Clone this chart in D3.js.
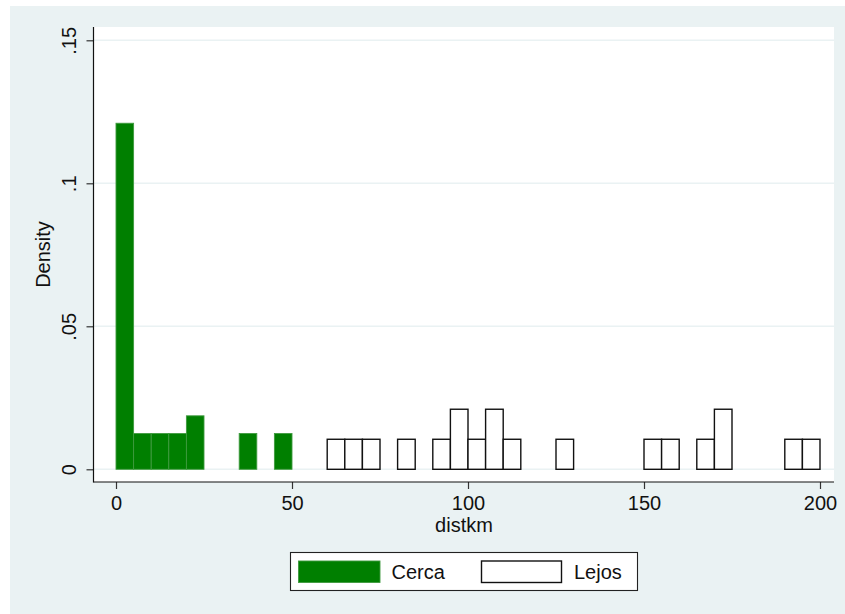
<!DOCTYPE html>
<html>
<head>
<meta charset="utf-8">
<script src="https://cdn.jsdelivr.net/npm/d3@7"></script>
<style>
  html, body { margin: 0; padding: 0; background: #ffffff; }
  svg { display: block; }
  text { font-family: "Liberation Sans", Arial, Helvetica, sans-serif; fill: #111; }
</style>
</head>
<body>
<svg id="chart" width="845" height="614"></svg>
<script>
// Histogram bins (distance in km), width 5
const binWidth = 5;
const cercaBinStart = [0, 5, 10, 15, 20, 35, 45];
const cercaDensity  = [0.121, 0.0125, 0.0125, 0.0125, 0.0187, 0.0125, 0.0125];
const lejosBinStart = [60, 65, 70, 80, 90, 95, 100, 105, 110, 125, 150, 155, 165, 170, 190, 195];
const lejosDensity  = [0.0105, 0.0105, 0.0105, 0.0105, 0.0105, 0.021, 0.0105, 0.021, 0.0105,
                       0.0105, 0.0105, 0.0105, 0.0105, 0.021, 0.0105, 0.0105];
const xTicks = [0, 50, 100, 150, 200];
const yTicks = [0, 0.05, 0.1, 0.15];
const yTickLabels = ["0", ".05", ".1", ".15"];
const seriesNames = ["Cerca", "Lejos"];

const cerca = cercaBinStart.map((s, i) => ({ x0: s, x1: s + binWidth, d: cercaDensity[i] }));
const lejos = lejosBinStart.map((s, i) => ({ x0: s, x1: s + binWidth, d: lejosDensity[i] }));

const svg = d3.select("#chart");
const bg = "#eaf2f3";
const green = "#007f00";

// outer graph region
svg.append("rect").attr("x", 10).attr("y", 6).attr("width", 835).attr("height", 608).attr("fill", bg);

// plot region
const plot = { left: 94, right: 834, top: 27, bottom: 482 };
svg.append("rect")
  .attr("x", plot.left).attr("y", plot.top)
  .attr("width", plot.right - plot.left).attr("height", plot.bottom - plot.top)
  .attr("fill", "#ffffff");

const x = d3.scaleLinear().domain([0, 200]).range([116, 820]);
const y = d3.scaleLinear().domain([0, 0.15]).range([469.3, 40.3]);

// grid lines
svg.append("g").selectAll("line").data(yTicks).join("line")
  .attr("x1", plot.left).attr("x2", plot.right)
  .attr("y1", d => y(d)).attr("y2", d => y(d))
  .attr("stroke", bg).attr("stroke-width", 1.4);

// Cerca bars (filled)
svg.append("g").selectAll("rect").data(cerca).join("rect")
  .attr("x", d => x(d.x0)).attr("width", d => x(d.x1) - x(d.x0))
  .attr("y", d => y(d.d)).attr("height", d => y(0) - y(d.d))
  .attr("fill", green).attr("stroke", "#3f9a3f").attr("stroke-width", 0.9);

// Lejos bars (outline)
svg.append("g").selectAll("rect").data(lejos).join("rect")
  .attr("x", d => x(d.x0)).attr("width", d => x(d.x1) - x(d.x0))
  .attr("y", d => y(d.d)).attr("height", d => y(0) - y(d.d))
  .attr("fill", "#ffffff").attr("stroke", "#111").attr("stroke-width", 1.4);

// axes
const fs = 20;
const yAxis = svg.append("g").attr("transform", `translate(${plot.left - 0.5},0)`)
  .call(d3.axisLeft(y).tickValues(yTicks).tickFormat((d, i) => yTickLabels[i]).tickSize(7).tickSizeOuter(0));
yAxis.select(".domain").remove();
yAxis.selectAll(".tick line").attr("stroke", "#333").attr("stroke-width", 1.2);
yAxis.selectAll(".tick text")
  .attr("transform", "rotate(-90)").attr("x", 0).attr("y", -18).attr("dy", 0)
  .attr("text-anchor", "middle").style("font-size", fs + "px").style("font-family", null);

const xAxis = svg.append("g").attr("transform", `translate(0,${plot.bottom})`)
  .call(d3.axisBottom(x).tickValues(xTicks).tickSize(7).tickSizeOuter(0));
xAxis.select(".domain").remove();
xAxis.selectAll(".tick line").attr("stroke", "#333").attr("stroke-width", 1.2);
xAxis.selectAll(".tick text").attr("y", 28).attr("dy", 0)
  .style("font-size", fs + "px").style("font-family", null);

svg.append("line").attr("x1", plot.left - 0.5).attr("x2", plot.left - 0.5)
  .attr("y1", plot.top).attr("y2", plot.bottom + 0.5).attr("stroke", "#111").attr("stroke-width", 1.2);
svg.append("line").attr("x1", plot.left - 0.5).attr("x2", plot.right)
  .attr("y1", plot.bottom).attr("y2", plot.bottom).attr("stroke", "#111").attr("stroke-width", 1.2);

// axis titles
svg.append("text").attr("x", (plot.left + plot.right) / 2).attr("y", 532)
  .attr("text-anchor", "middle").style("font-size", fs + "px").text("distkm");
svg.append("text").attr("transform", `translate(50,${(plot.top + plot.bottom) / 2}) rotate(-90)`)
  .attr("text-anchor", "middle").style("font-size", fs + "px").text("Density");

// legend
const lg = svg.append("g");
lg.append("rect").attr("x", 290.5).attr("y", 552.5).attr("width", 347).attr("height", 38)
  .attr("fill", "#fff").attr("stroke", "#222").attr("stroke-width", 1.1);
lg.append("rect").attr("x", 298.5).attr("y", 561).attr("width", 81.5).attr("height", 21.5)
  .attr("fill", green).attr("stroke", "#3f9a3f").attr("stroke-width", 0.9);
lg.append("text").attr("x", 391.5).attr("y", 578.5).style("font-size", "20px").text(seriesNames[0]);
lg.append("rect").attr("x", 481.5).attr("y", 561).attr("width", 80).attr("height", 21.5)
  .attr("fill", "#fff").attr("stroke", "#111").attr("stroke-width", 1.4);
lg.append("text").attr("x", 574).attr("y", 578.5).style("font-size", "20px").text(seriesNames[1]);
</script>
</body>
</html>
